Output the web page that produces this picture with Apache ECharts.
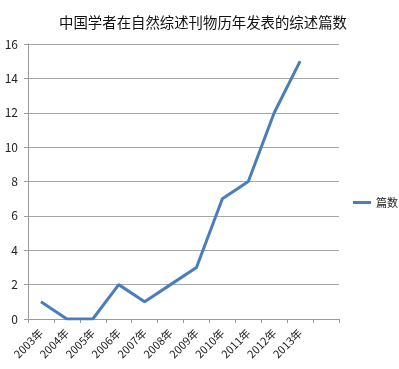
<!DOCTYPE html>
<html><head><meta charset="utf-8">
<script src="https://cdn.jsdelivr.net/npm/echarts@6/dist/echarts.min.js"></script>
<style>html,body{margin:0;padding:0;background:#fff}#c{width:399px;height:369px}</style>
</head><body><div id="c"></div>
<script>
const titleText = '中国学者在自然综述刊物历年发表的综述篇数';
const categories = ['2003年','2004年','2005年','2006年','2007年','2008年','2009年','2010年','2011年','2012年','2013年',''];
const seriesName = '篇数';
const values = [1,0,0,2,1,2,3,7,8,12,15,null];
const yTicks = {min:0, max:16, interval:2};
const font = '"Noto Sans CJK SC", "Noto Sans", sans-serif';
const chart = echarts.init(document.getElementById('c'), null, {renderer:'canvas'});
chart.setOption({
  animation:false,
  backgroundColor:'#fff',
  title:{text:titleText, left:203, top:15, textAlign:'center', padding:0,
    textStyle:{fontFamily:font, fontSize:14.4, fontWeight:'normal', color:'#111'}},
  legend:{data:[{name:seriesName}], left:353, top:197, orient:'vertical', padding:0,
    itemWidth:18, itemHeight:3, itemGap:4, icon:'rect',
    textStyle:{fontFamily:font, fontSize:11, color:'#222'}},
  grid:{left:28, right:60, top:44, bottom:50, containLabel:false},
  xAxis:{type:'category', data:categories, boundaryGap:true,
    axisLine:{lineStyle:{color:'#9a9a9a', width:1}},
    axisTick:{show:true, interval:0, length:4, lineStyle:{color:'#9a9a9a'}},
    axisLabel:{interval:0, rotate:45, margin:12, fontFamily:font, fontSize:11, color:'#222'}},
  yAxis:{type:'value', min:yTicks.min, max:yTicks.max, interval:yTicks.interval,
    axisLine:{show:true, lineStyle:{color:'#9a9a9a', width:1}},
    axisTick:{show:true, length:4, lineStyle:{color:'#9a9a9a'}},
    splitLine:{lineStyle:{color:'#a6a6a6', width:1}},
    axisLabel:{margin:10, fontFamily:font, fontSize:12, color:'#222'}},
  series:[{name:seriesName, type:'line', data:values, showSymbol:false, symbol:'none',
    lineStyle:{color:'#4a7ebb', width:3}, itemStyle:{color:'#4a7ebb'}}]
});
</script></body></html>
